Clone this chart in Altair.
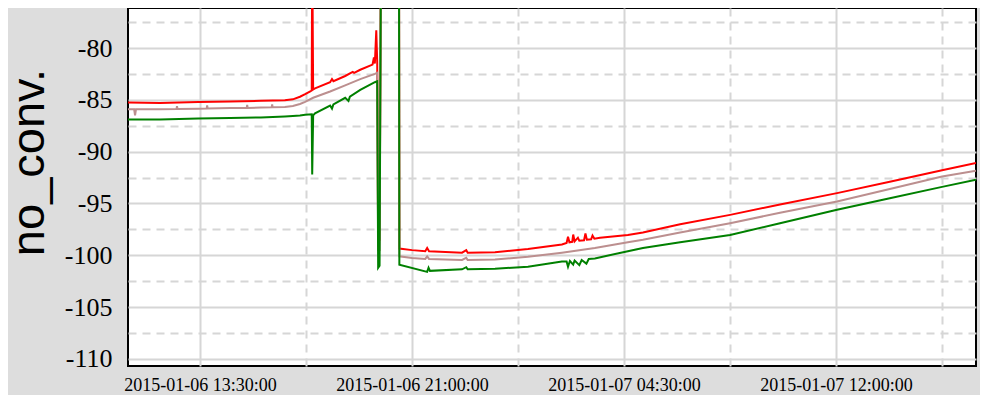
import altair as alt
import pandas as pd

# ---- data (time, no_conv.) ----
red = [
    ("2015-01-06T10:57:00", -85.25), ("2015-01-06T12:05:00", -85.3), ("2015-01-06T13:26:00", -85.2),
    ("2015-01-06T14:34:00", -85.15), ("2015-01-06T15:39:00", -85.1), ("2015-01-06T16:30:00", -85.05),
    ("2015-01-06T16:47:00", -84.95), ("2015-01-06T17:02:00", -84.7), ("2015-01-06T17:13:00", -84.45),
    ("2015-01-06T17:23:00", -84.2), ("2015-01-06T17:27:00", -84.1), ("2015-01-06T17:28:00", -70.0),
    ("2015-01-06T17:30:00", -84.0), ("2015-01-06T17:34:00", -83.9), ("2015-01-06T18:06:00", -83.3),
    ("2015-01-06T18:10:00", -83.0), ("2015-01-06T18:13:00", -83.2), ("2015-01-06T18:38:00", -82.7),
    ("2015-01-06T18:54:00", -82.3), ("2015-01-06T18:57:00", -82.4), ("2015-01-06T19:10:00", -82.1),
    ("2015-01-06T19:36:00", -81.6), ("2015-01-06T19:39:00", -80.9), ("2015-01-06T19:41:00", -81.5),
    ("2015-01-06T19:44:00", -78.3), ("2015-01-06T19:46:00", -81.4), ("2015-01-06T19:48:00", -98.5),
    ("2015-01-06T19:51:00", -98.5), ("2015-01-06T19:55:00", -60.0), ("2015-01-06T20:32:00", -60.0),
    ("2015-01-06T20:33:00", -99.35), ("2015-01-06T21:00:00", -99.5), ("2015-01-06T21:28:00", -99.6),
    ("2015-01-06T21:32:00", -99.3), ("2015-01-06T21:36:00", -99.6), ("2015-01-06T22:46:00", -99.75),
    ("2015-01-06T22:55:00", -99.5), ("2015-01-06T22:58:00", -99.75), ("2015-01-06T23:56:00", -99.7),
    ("2015-01-07T01:06:00", -99.4), ("2015-01-07T02:18:00", -98.95), ("2015-01-07T02:28:00", -98.8),
    ("2015-01-07T02:31:00", -98.2), ("2015-01-07T02:34:00", -98.75), ("2015-01-07T02:40:00", -98.7),
    ("2015-01-07T02:42:00", -98.0), ("2015-01-07T02:45:00", -98.65), ("2015-01-07T02:52:00", -98.3),
    ("2015-01-07T02:55:00", -98.6), ("2015-01-07T03:05:00", -98.55), ("2015-01-07T03:08:00", -97.9),
    ("2015-01-07T03:11:00", -98.5), ("2015-01-07T03:20:00", -98.45), ("2015-01-07T03:23:00", -98.1),
    ("2015-01-07T03:27:00", -98.4), ("2015-01-07T03:39:00", -98.3), ("2015-01-07T04:38:00", -98.05),
    ("2015-01-07T05:10:00", -97.8), ("2015-01-07T06:29:00", -97.0), ("2015-01-07T08:15:00", -96.1),
    ("2015-01-07T10:01:00", -95.1), ("2015-01-07T12:02:00", -94.0), ("2015-01-07T13:54:00", -92.9),
    ("2015-01-07T15:45:00", -91.8), ("2015-01-07T16:57:00", -91.1),
]

brown = [
    ("2015-01-06T10:57:00", -85.9), ("2015-01-06T11:10:00", -85.9), ("2015-01-06T11:12:00", -86.5),
    ("2015-01-06T11:14:00", -85.9), ("2015-01-06T12:05:00", -85.9), ("2015-01-06T12:40:00", -85.88),
    ("2015-01-06T12:41:00", -85.6), ("2015-01-06T12:42:00", -85.88), ("2015-01-06T13:26:00", -85.85),
    ("2015-01-06T13:44:00", -85.83), ("2015-01-06T13:45:00", -85.55), ("2015-01-06T13:46:00", -85.83),
    ("2015-01-06T14:34:00", -85.8), ("2015-01-06T15:09:00", -85.78), ("2015-01-06T15:10:00", -85.5),
    ("2015-01-06T15:11:00", -85.78), ("2015-01-06T15:39:00", -85.75), ("2015-01-06T16:02:00", -85.72),
    ("2015-01-06T16:03:00", -85.45), ("2015-01-06T16:04:00", -85.72), ("2015-01-06T16:30:00", -85.7),
    ("2015-01-06T16:47:00", -85.6), ("2015-01-06T17:02:00", -85.4), ("2015-01-06T17:13:00", -85.2),
    ("2015-01-06T17:30:00", -84.8), ("2015-01-06T18:06:00", -84.2), ("2015-01-06T18:38:00", -83.6),
    ("2015-01-06T19:10:00", -83.0), ("2015-01-06T19:41:00", -82.5), ("2015-01-06T19:46:00", -82.4),
    ("2015-01-06T19:48:00", -99.5), ("2015-01-06T19:51:00", -99.5), ("2015-01-06T19:55:00", -60.0),
    ("2015-01-06T20:32:00", -60.0), ("2015-01-06T20:33:00", -100.1), ("2015-01-06T21:00:00", -100.25),
    ("2015-01-06T21:28:00", -100.35), ("2015-01-06T21:32:00", -100.1), ("2015-01-06T21:36:00", -100.35),
    ("2015-01-06T22:46:00", -100.45), ("2015-01-06T22:55:00", -100.25), ("2015-01-06T22:58:00", -100.45),
    ("2015-01-06T23:56:00", -100.4), ("2015-01-07T01:06:00", -100.15), ("2015-01-07T02:18:00", -99.75),
    ("2015-01-07T03:28:00", -99.3), ("2015-01-07T04:38:00", -98.75), ("2015-01-07T05:10:00", -98.5),
    ("2015-01-07T06:29:00", -97.8), ("2015-01-07T08:15:00", -96.9), ("2015-01-07T10:01:00", -95.9),
    ("2015-01-07T12:02:00", -94.8), ("2015-01-07T13:54:00", -93.6), ("2015-01-07T15:45:00", -92.4),
    ("2015-01-07T16:57:00", -91.85),
]

green = [
    ("2015-01-06T10:57:00", -86.9), ("2015-01-06T12:05:00", -86.9), ("2015-01-06T13:26:00", -86.8),
    ("2015-01-06T14:34:00", -86.75), ("2015-01-06T15:39:00", -86.7), ("2015-01-06T16:30:00", -86.6),
    ("2015-01-06T16:47:00", -86.55), ("2015-01-06T17:02:00", -86.5), ("2015-01-06T17:13:00", -86.45),
    ("2015-01-06T17:27:00", -86.4), ("2015-01-06T17:28:00", -92.2), ("2015-01-06T17:30:00", -86.5),
    ("2015-01-06T17:34:00", -86.3), ("2015-01-06T18:06:00", -85.55), ("2015-01-06T18:10:00", -85.85),
    ("2015-01-06T18:13:00", -85.45), ("2015-01-06T18:38:00", -84.8), ("2015-01-06T18:45:00", -85.1),
    ("2015-01-06T18:48:00", -84.7), ("2015-01-06T19:10:00", -84.05), ("2015-01-06T19:41:00", -83.3),
    ("2015-01-06T19:46:00", -83.2), ("2015-01-06T19:48:00", -101.2), ("2015-01-06T19:51:00", -101.0),
    ("2015-01-06T19:55:00", -60.0), ("2015-01-06T20:32:00", -60.0), ("2015-01-06T20:33:00", -100.9),
    ("2015-01-06T21:32:00", -101.6), ("2015-01-06T21:35:00", -101.2), ("2015-01-06T21:38:00", -101.5),
    ("2015-01-06T22:46:00", -101.35), ("2015-01-06T22:55:00", -101.15), ("2015-01-06T22:58:00", -101.35),
    ("2015-01-06T23:56:00", -101.3), ("2015-01-07T01:06:00", -101.1), ("2015-01-07T02:18:00", -100.6),
    ("2015-01-07T02:28:00", -100.6), ("2015-01-07T02:31:00", -101.1), ("2015-01-07T02:35:00", -100.55),
    ("2015-01-07T02:42:00", -100.9), ("2015-01-07T02:45:00", -100.5), ("2015-01-07T02:55:00", -100.95),
    ("2015-01-07T03:00:00", -100.45), ("2015-01-07T03:10:00", -100.8), ("2015-01-07T03:15:00", -100.35),
    ("2015-01-07T03:28:00", -100.3), ("2015-01-07T04:38:00", -99.6), ("2015-01-07T05:10:00", -99.3),
    ("2015-01-07T06:29:00", -98.75), ("2015-01-07T08:15:00", -98.05), ("2015-01-07T10:01:00", -96.9),
    ("2015-01-07T12:02:00", -95.6), ("2015-01-07T13:54:00", -94.5), ("2015-01-07T15:45:00", -93.4),
    ("2015-01-07T16:57:00", -92.7),
]

series_colors = {"upper": "#ff0000", "middle": "#bc8f8f", "lower": "#008000"}

y_ticks = [-110, -107.5, -105, -102.5, -100, -97.5, -95, -92.5, -90, -87.5, -85, -82.5, -80, -77.5]
x_ticks = [
    alt.DateTime(year=2015, month=1, date=6, hours=13, minutes=30),
    alt.DateTime(year=2015, month=1, date=6, hours=17, minutes=15),
    alt.DateTime(year=2015, month=1, date=6, hours=21, minutes=0),
    alt.DateTime(year=2015, month=1, date=7, hours=0, minutes=45),
    alt.DateTime(year=2015, month=1, date=7, hours=4, minutes=30),
    alt.DateTime(year=2015, month=1, date=7, hours=8, minutes=15),
    alt.DateTime(year=2015, month=1, date=7, hours=12, minutes=0),
    alt.DateTime(year=2015, month=1, date=7, hours=15, minutes=45),
]
x_domain = [
    alt.DateTime(year=2015, month=1, date=6, hours=10, minutes=57),
    alt.DateTime(year=2015, month=1, date=7, hours=16, minutes=57),
]
y_domain = [-110.68, -76.14]

SERIF = "Liberation Serif, Times New Roman, Times, serif"
minor_x = "(datum.value - datetime(2015,0,6,13,30)) % 27000000 != 0"

x_axis = alt.Axis(
    values=x_ticks,
    labelExpr="(datum.value - datetime(2015,0,6,13,30)) % 27000000 == 0 ? timeFormat(datum.value, '%Y-%m-%d %H:%M:%S') : ''",
    labelFont=SERIF, labelFontSize=18, labelColor="black", labelPadding=10,
    labelOverlap=False, ticks=False, domain=False,
    grid=True, gridColor="#d6d6d6", gridWidth=2,
    gridDash={"condition": {"test": minor_x, "value": [8, 6]}, "value": []},
)
y_axis = alt.Axis(
    values=y_ticks,
    labelExpr="datum.value % 5 == 0 ? '' + datum.value : ''",
    labelFont=SERIF, labelFontSize=26, labelColor="black", labelPadding=16,
    labelOverlap=False, ticks=False, domain=False,
    grid=True, gridColor="#d6d6d6", gridWidth=2,
    gridDash={"condition": {"test": "datum.value % 5 != 0", "value": [8, 6]}, "value": []},
    title="no_conv.", titleFont="Liberation Sans, Arial, sans-serif", titleFontSize=47,
    titleFontWeight="normal", titleColor="black", titleX=-85, titleY=154, titleAngle=-90,
    titleBaseline="alphabetic", titleAlign="center",
)


def frame(name, pts):
    return pd.DataFrame({"time": [p[0] for p in pts], "value": [p[1] for p in pts], "series": name})


layers = []
for name, pts in (("upper", red), ("middle", brown), ("lower", green)):
    layers.append(
        alt.Chart(frame(name, pts)).mark_line(clip=True, strokeWidth=2, color=series_colors[name]).encode(
            x=alt.X("time:T", scale=alt.Scale(domain=x_domain), axis=x_axis, title=None),
            y=alt.Y("value:Q", scale=alt.Scale(domain=y_domain, nice=False, zero=False), axis=y_axis),
        )
    )

chart = alt.layer(*layers).properties(
    width=848, height=358,
    autosize=alt.AutoSizeParams(type="none"),
    padding={"left": 120, "top": 0, "right": 4, "bottom": 29},
    background="#dddddd",
).configure_view(stroke="black", strokeWidth=2, fill="white")

chart.save("out.html", embed_options={"renderer": "svg", "actions": False})
